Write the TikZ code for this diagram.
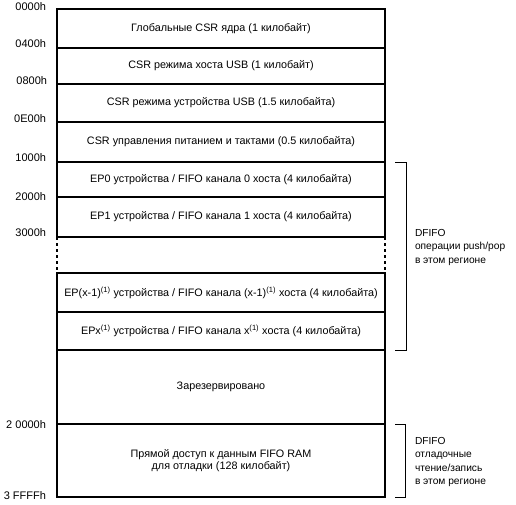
\documentclass[tikz,border=0pt]{standalone}
\usepackage{fontspec}
\setmainfont{Liberation Sans}
\begin{document}
\begin{tikzpicture}[x=1pt,y=-1pt,
  every node/.style={font=\fontsize{10.8}{12.5}\selectfont, inner sep=0pt, outer sep=0pt},
  region/.style={draw, line width=1.5pt, minimum width=328pt, align=center},
  addr/.style={anchor=east, font=\fontsize{11}{12}\selectfont},
  bracket/.style={line width=0.7pt},
  note/.style={anchor=north west, align=left, font=\fontsize{10.2}{13.5}\selectfont}]
\useasboundingbox (0,0) rectangle (516,504);

% memory regions
\node[region, minimum height=39pt] (glob) at (221,28.5) {Глобальные CSR ядра (1 килобайт)};
\node[region, minimum height=36pt] (host) at (221,66)   {CSR режима хоста USB (1 килобайт)};
\node[region, minimum height=38pt] (dev)  at (221,103)  {CSR режима устройства USB (1.5 килобайта)};
\node[region, minimum height=40pt] (pwr)  at (221,142)  {CSR управления питанием и тактами (0.5 килобайта)};
\node[region, minimum height=35pt] (ep0)  at (221,179.5) {EP0 устройства / FIFO канала 0 хоста (4 килобайта)};
\node[region, minimum height=40pt] (ep1)  at (221,217)  {EP1 устройства / FIFO канала 1 хоста (4 килобайта)};
\node[region, minimum height=39pt] (epxm) at (221,292.5) {EP(x-1)\textsuperscript{(1)} устройства / FIFO канала (x-1)\textsuperscript{(1)} хоста (4 килобайта)};
\node[region, minimum height=38pt] (epx)  at (221,331)  {EPx\textsuperscript{(1)} устройства / FIFO канала x\textsuperscript{(1)} хоста (4 килобайта)};
\node[region, minimum height=74pt] (rsvd) at (221,387)  {Зарезервировано};
\node[region, minimum height=73pt] (dbg)  at (221,460.5) {Прямой доступ к данным FIFO RAM\\для отладки (128 килобайт)};

\draw[line width=1.5pt, dashed] (ep1.south west) -- (epxm.north west);
\draw[line width=1.5pt, dashed] (ep1.south east) -- (epxm.north east);

% addresses
\node[addr] (a0) at (46,7)   {0000h};
\node[addr] (a1) at (46,44)  {0400h};
\node[addr] (a2) at (47,81)  {0800h};
\node[addr] (a3) at (46,119) {0E00h};
\node[addr] (a4) at (46,158) {1000h};
\node[addr] (a5) at (46,197) {2000h};
\node[addr] (a6) at (46,233) {3000h};
\node[addr] (a7) at (46,425) {2 0000h};
\node[addr] (a8) at (46,496) {3 FFFFh};

% brackets
\draw[bracket] ([xshift=10pt]ep0.north east) -| ([xshift=21pt]epx.south east) -- ([xshift=10pt]epx.south east);
\draw[bracket] ([xshift=10pt]dbg.north east) -| ([xshift=20pt]dbg.south east) -- ([xshift=10pt]dbg.south east);

\node[note] (push) at (415,229) {DFIFO\\операции push/pop\\в этом регионе};
\node[note] (dbgn) at (415,437) {DFIFO\\отладочные\\чтение/запись\\в этом регионе};
\end{tikzpicture}
\end{document}
